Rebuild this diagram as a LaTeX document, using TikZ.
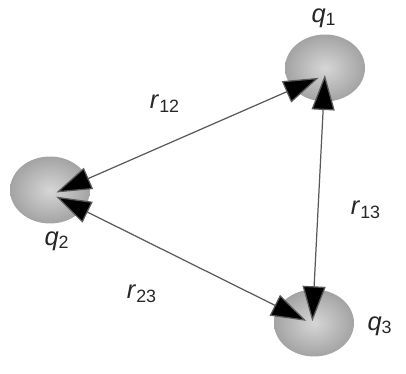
\documentclass[tikz,border=0pt]{standalone}
\usepackage{fontspec}
\setmainfont{Liberation Sans}
\usetikzlibrary{arrows.meta,shapes.geometric}
\definecolor{ChargeInk}{gray}{0.15}
\definecolor{ChargeLine}{gray}{0.35}
\definecolor{ChargeCore}{gray}{0.84}
\definecolor{ChargeRim}{gray}{0.64}
\tikzset{
    charge/diagram/.style={
        x=0.02cm, y=-0.02cm,
        font=\fontsize{14.5}{16}\selectfont,
        text=ChargeInk,
        line cap=round,
        line join=round
    },
    charge/ball/.style={
        ellipse, minimum width=1.6cm, minimum height=1.34cm, inner sep=0pt,
        shading=radial, inner color=ChargeCore, outer color=ChargeRim
    },
    charge/link/.style={
        draw=ChargeLine, line width=0.7pt,
        {Triangle[length=7mm, width=4.6mm, fill=black]}-{Triangle[length=7mm, width=4.6mm, fill=black]}
    },
    charge/label/.style={inner sep=1pt}
}
\newcommand{\chg}[1]{\textit{q}\textsubscript{#1}}
\newcommand{\dist}[1]{\textit{r}\textsubscript{#1}}
\begin{document}
\begin{tikzpicture}[charge/diagram]
    \useasboundingbox (0,0) rectangle (406,374);
    % the three charges
    \node[charge/ball] (q1) at (325,68) {};
    \node[charge/ball] (q2) at (50,190) {};
    \node[charge/ball] (q3) at (314,323) {};
    \node[charge/label] (lq1) at (324,18) {\chg{1}};
    \node[charge/label] (lq2) at (57,241) {\chg{2}};
    \node[charge/label] (lq3) at (380,326) {\chg{3}};
    % separations
    \draw[charge/link, shorten <=4pt, shorten >=4pt]
        ([yshift=-3pt]q2.center) -- ([yshift=-4pt]q1.center);
    \draw[charge/link, shorten <=1pt, shorten >=1pt]
        ([xshift=-1pt]q3.center) -- ([yshift=-3pt]q1.center);
    \draw[charge/link, shorten <=4pt, shorten >=5pt]
        ([yshift=-2pt]q2.center) -- ([yshift=-1pt]q3.center);
    \node[charge/label] (r12) at (165,104) {\dist{12}};
    \node[charge/label] (r13) at (366,210) {\dist{13}};
    \node[charge/label] (r23) at (142,294) {\dist{23}};
\end{tikzpicture}
\end{document}
